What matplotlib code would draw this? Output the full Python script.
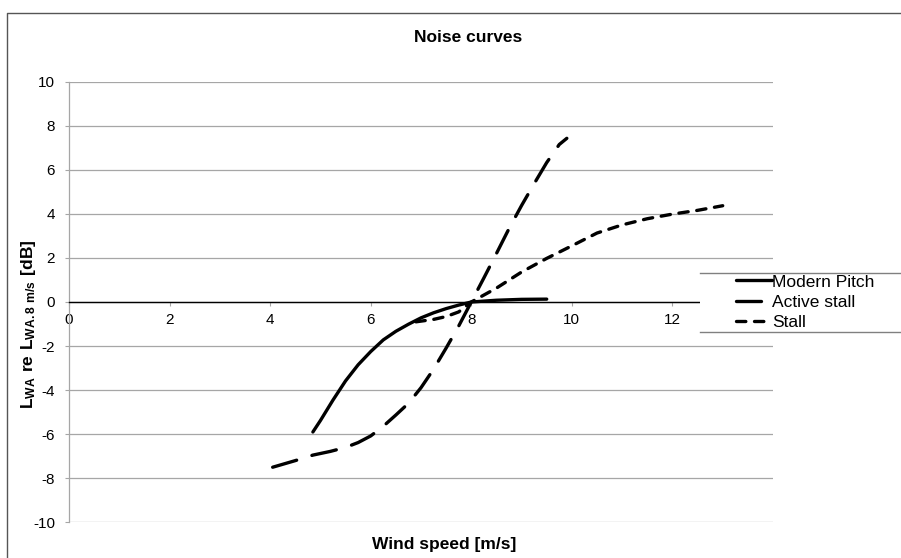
import matplotlib
matplotlib.use("Agg")
import matplotlib.pyplot as plt
from matplotlib.patches import Rectangle
from matplotlib.lines import Line2D

plt.rcParams["font.family"] = "Liberation Sans"
plt.rcParams["axes.unicode_minus"] = False
plt.rcParams["mathtext.fontset"] = "custom"
plt.rcParams["mathtext.rm"] = "Liberation Sans"
plt.rcParams["mathtext.bf"] = "Liberation Sans:bold"

# Noise level relative to the level at 8 m/s
pitch_ws = [4.85, 5.0, 5.25, 5.5, 5.75, 6.0, 6.25, 6.5, 6.75, 7.0, 7.25, 7.5, 7.75, 8.0, 8.5, 9.0, 9.5]
pitch_db = [-5.9, -5.38, -4.45, -3.58, -2.85, -2.25, -1.72, -1.33, -1.01, -0.72, -0.49, -0.3, -0.14, 0.0, 0.08, 0.12, 0.13]

active_ws = [4.05, 4.5, 4.85, 5.2, 5.5, 5.75, 6.0, 6.25, 6.5, 6.75, 7.0, 7.25, 7.5, 7.75,
             8.0, 8.25, 8.5, 8.75, 9.0, 9.25, 9.5, 9.75, 9.9]
active_db = [-7.5, -7.2, -6.95, -6.78, -6.6, -6.38, -6.08, -5.64, -5.13, -4.6, -3.89, -3.05, -2.09, -1.09,
             0.0, 1.09, 2.2, 3.33, 4.38, 5.37, 6.33, 7.15, 7.43]

stall_ws = [6.9, 7.25, 7.5, 7.75, 7.9, 8.0, 8.5, 9.0, 9.5, 10.0, 10.5, 11.0, 11.5, 12.0, 12.5, 13.0]
stall_db = [-0.9, -0.79, -0.66, -0.45, -0.18, 0.0, 0.63, 1.36, 1.98, 2.55, 3.13, 3.5, 3.78, 3.99, 4.16, 4.37]

W, H = 901, 558
fig = plt.figure(figsize=(W / 100, H / 100), dpi=100)
ax = fig.add_axes([69 / W, 1 - 522.3 / H, (773 - 69) / W, (522.3 - 81.7) / H])

lw = 2.4
ax.plot(pitch_ws, pitch_db, color="black", lw=lw, solid_capstyle="round",
        solid_joinstyle="round", label="Modern Pitch", zorder=3)
ax.plot(active_ws, active_db, color="black", lw=lw, linestyle=(0, (7.5, 4.8)),
        dash_capstyle="round", dash_joinstyle="round", label="Active stall", zorder=3)
ax.plot(stall_ws, stall_db, color="black", lw=lw, linestyle=(0, (2.8, 2.6)),
        dash_capstyle="round", dash_joinstyle="round", label="Stall", zorder=3)

ax.set_xlim(0, 14)
ax.set_ylim(-10, 10)
ax.set_xticks(range(0, 15, 2))
ax.set_yticks(range(-10, 11, 2))
ax.grid(axis="y", color="#a6a6a6", lw=0.9)
ax.set_axisbelow(True)

for s in ["top", "right"]:
    ax.spines[s].set_visible(False)
ax.spines["bottom"].set_position(("data", 0))
ax.spines["bottom"].set_color("black")
ax.spines["bottom"].set_linewidth(1.0)
ax.spines["left"].set_color("#a6a6a6")
ax.spines["left"].set_linewidth(0.9)
ax.tick_params(axis="x", direction="out", length=3, width=0.8, color="#a6a6a6", pad=5, labelsize=11)
ax.tick_params(axis="y", direction="out", length=3, width=0.8, color="#a6a6a6", pad=7, labelsize=11)

fig.text(468 / W, 1 - 37 / H, "Noise curves", ha="center", va="center", fontsize=12.5, fontweight="bold")
fig.text(444 / W, 1 - 545 / H, "Wind speed [m/s]", ha="center", va="center", fontsize=12.5, fontweight="bold")
fig.text(29 / W, 1 - 324 / H, r"$\mathbf{L_{WA}\ re\ L_{WA.8\ m/s}\ [dB]}$",
         ha="center", va="center", rotation=90, fontsize=12.5)

# outer chart frame (left and top edges)
fig.add_artist(Line2D([7 / W, 7 / W, 1], [0, 1 - 13 / H, 1 - 13 / H],
                      transform=fig.transFigure, color="#555555", lw=1.0))

# legend box sits over the right end of the plot
fig.add_artist(Rectangle((700 / W, 1 - 332 / H), (W - 700) / W, 59 / H,
                         transform=fig.transFigure, facecolor="white", edgecolor="none", zorder=5))
for yy in (273, 332):
    fig.add_artist(Line2D([700 / W, 1], [1 - yy / H, 1 - yy / H],
                          transform=fig.transFigure, color="#808080", lw=1.0, zorder=6))
leg = fig.legend(loc="center left", bbox_to_anchor=(736 / W, 1 - 302 / H), frameon=False,
                 fontsize=12.5, handlelength=2.05, handletextpad=0.05, labelspacing=0.28,
                 borderpad=0, borderaxespad=0)
leg.set_zorder(7)

fig.savefig("out.png", dpi=100)
